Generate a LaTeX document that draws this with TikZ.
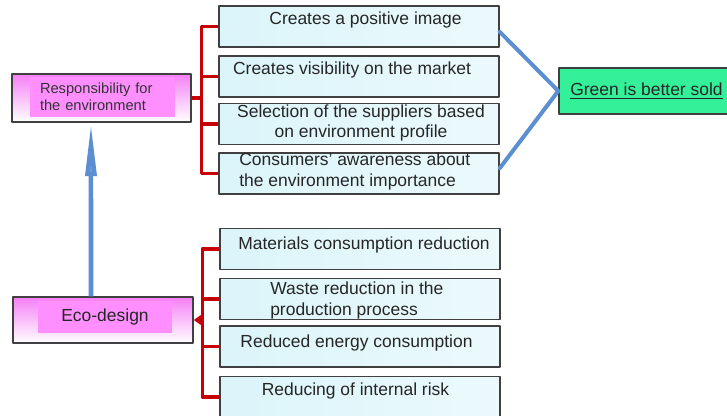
\documentclass[tikz,border=0pt]{standalone}
\usepackage{fontspec}
\setmainfont{Liberation Sans}
\usepackage{tikz}
\usetikzlibrary{arrows,arrows.meta}
\definecolor{ccqqqq}{rgb}{0.78,0,0.03}
\definecolor{ffnnff}{rgb}{1,0.56,1}
\definecolor{eeppee}{rgb}{0.96,0.5,0.96}
\definecolor{ddffff}{rgb}{0.86,0.96,0.98}
\definecolor{qqeeqq}{rgb}{0.2,0.94,0.6}
\definecolor{ppqqbb}{rgb}{0.36,0.56,0.82}
\definecolor{ggqqgg}{rgb}{0.25,0.25,0.25}

\begin{document}
\begin{tikzpicture}[line cap=round,line join=round,x=0.75pt,y=-0.75pt,
  cbox/.style={draw=ggqqgg,line width=1.1pt,left color=ddffff,right color=ddffff!55!white,minimum width=210pt,minimum height=30.75pt,inner sep=0pt},
  pbox/.style={draw=ggqqgg,line width=1.1pt,top color=eeppee,bottom color=white,inner sep=0pt},
  txt/.style={font=\fontsize{13.1}{15.5}\selectfont,text=black!85,inner sep=0pt},
  brack/.style={draw=ccqqqq,line width=2.4pt,line cap=butt},
  bline/.style={draw=ppqqbb,line width=3pt}]
\clip (0,0) rectangle (727,416);
% left boxes
\node[pbox,minimum width=134.25pt,minimum height=36pt] (resp) at (101.5,98) {};
\node[fill=ffnnff,text width=93.75pt,inner xsep=7.5pt,minimum height=30pt,align=left,font=\fontsize{11}{12.75}\selectfont,text=black!80] (resp-t) at (102.5,97) {Responsibility for\\the environment};
\node[pbox,minimum width=135pt,minimum height=34.5pt] (eco) at (103,320) {};
\node[txt,fill=ffnnff,minimum width=100.5pt,minimum height=24pt] (eco-t) at (105,317) {Eco-design};
% right boxes
\node[cbox] (img) at (359,26.5) {};
\node[cbox] (vis) at (359,76.5) {};
\node[cbox] (sup) at (359,124) {};
\node[cbox] (aware) at (359,173.5) {};
\node[cbox] (mat) at (360,249) {};
\node[cbox] (waste) at (360,299) {};
\node[cbox] (energy) at (360,346.5) {};
\node[cbox] (risk) at (360,397) {};
\node[txt] (img-t) at (365.5,20) {Creates a positive image};
\node[txt] (vis-t) at (352,70) {Creates visibility on the market};
\node[txt,align=center] (sup-t) at (361,123) {Selection of the suppliers based\\on environment profile};
\node[txt,align=left,anchor=west] (aware-t) at (239,171.5) {Consumers' awareness about\\the environment importance};
\node[txt] (mat-t) at (364,245) {Materials consumption reduction};
\node[txt,align=left,anchor=west] (waste-t) at (270,300.5) {Waste reduction in the\\production process};
\node[txt] (energy-t) at (356.5,343) {Reduced energy consumption};
\node[txt] (risk-t) at (355.5,391) {Reducing of internal risk};
\node[txt,draw=ggqqgg,line width=1.1pt,fill=qqeeqq,minimum width=131.25pt,minimum height=34.5pt] (green) at (646.5,91) {\underline{Green is better sold}};
% brackets
\draw[brack] (img.west) -- ++(-17,0) |- (aware.west);
\draw[brack] (vis.west) -- ++(-17,0);
\draw[brack] (sup.west) -- ++(-17,0);
\draw[brack] (resp.east) -- ++(11,0);
\draw[brack] (mat.west) -- ++(-17,0) |- (risk.west);
\draw[brack] (waste.west) -- ++(-17,0);
\draw[brack] (energy.west) -- ++(-17,0);
\draw[brack,-{Triangle[length=6pt,width=8pt]}] ([xshift=-12.75pt]mat.west |- eco.east) -- (eco.east);
% blue lines
\draw[bline] ([yshift=-4pt]img.east) -- (green.west) -- ([yshift=4pt]aware.east);
\draw[draw=ppqqbb,line width=3.4pt,line cap=butt,-{Triangle[length=40pt,width=8pt,fill=ppqqbb!80!white]}] ([xshift=-9pt]eco.north) -- ([xshift=-7.9pt]resp.south);
\end{tikzpicture}
\end{document}
